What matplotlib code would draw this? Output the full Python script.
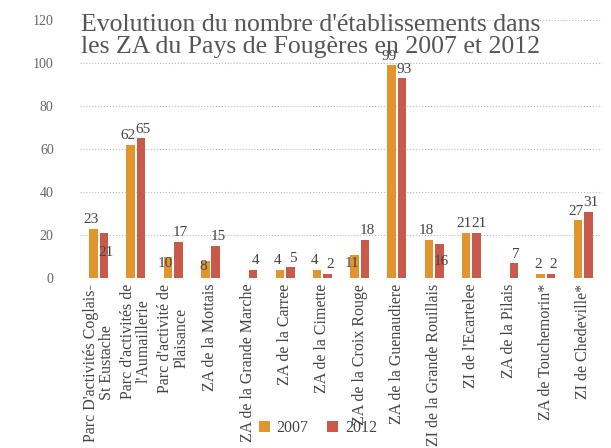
import matplotlib.pyplot as plt
import numpy as np

# zones d'activites (labels as on the chart)
zones = ["Parc D'activités Coglais-\nSt Eustache", "Parc d'activités de\nl'Aumaillerie",
         "Parc d'activité de\nPlaisance", "ZA de la Mottais", "ZA de la Grande Marche",
         "ZA de la Carree", "ZA de la Cimette", "ZA de la Croix Rouge",
         "ZA de la Guenaudiere", "ZI de la Grande Rouillais", "ZI de l'Ecartelee",
         "ZA de la Pilais", "ZA de Touchemorin*", "ZI de Chedeville*"]
val_2007 = [23, 62, 10, 8, None, 4, 4, 11, 99, 18, 21, None, 2, 27]
val_2012 = [21, 65, 17, 15, 4, 5, 2, 18, 93, 16, 21, 7, 2, 31]

# labels that sit inside the bars on the original (series, index) -> label centre y
label_inside = {(2012, 0): 12, (2007, 2): 7, (2007, 3): 5.5, (2007, 7): 7, (2012, 9): 8}

plt.rcParams['font.family'] = ['Liberation Serif', 'DejaVu Serif']

fig = plt.figure(figsize=(6.11, 4.48), dpi=100)
ax = fig.add_axes([0.131, 0.379, 0.854, 0.576])

x = np.arange(len(zones))
w = 0.23
c07 = '#E2952E'
c12 = '#C85A4B'
v07 = [v if v is not None else 0 for v in val_2007]

ax.bar(x - 0.14, v07, w, color=c07, label='2007', zorder=3)
ax.bar(x + 0.14, val_2012, w, color=c12, label='2012', zorder=3)

# data labels
for year, vals, dx in [(2007, val_2007, -0.2), (2012, val_2012, 0.2)]:
    for i, v in enumerate(vals):
        if v is None:
            continue
        if (year, i) in label_inside:
            ax.text(x[i] + dx, label_inside[(year, i)], str(v), ha='center', va='center',
                    fontsize=11, color='#444444', zorder=4)
        else:
            ax.text(x[i] + dx, v + 1.2, str(v), ha='center', va='bottom',
                    fontsize=11, color='#444444', zorder=4)

ax.set_xlim(-0.5, len(zones) - 0.5)
ax.set_ylim(0, 120)
ax.set_yticks(range(0, 121, 20))
ax.yaxis.grid(True, linestyle=':', color='#bbbbbb', linewidth=0.8, zorder=0)
for s in ax.spines.values():
    s.set_visible(False)
ax.tick_params(axis='y', length=0, labelsize=10, labelcolor='#666666', pad=19)
ax.tick_params(axis='x', length=0, pad=4)
ax.set_xticks(x)
ax.set_xticklabels(zones, rotation=90, fontsize=11.5, color='#444444', va='top', ha='center',
                   multialignment='center', linespacing=1.0)

fig.text(0.508, 0.968, "Evolutiuon du nombre d'établissements dans\nles ZA du Pays de Fougères en 2007 et 2012",
         ha='center', va='top', fontsize=18.5, color='#555555', linespacing=1.0)

fig.legend(loc='lower center', bbox_to_anchor=(0.52, -0.005), ncol=2, frameon=False,
           fontsize=11.5, handlelength=0.7, handleheight=0.7, columnspacing=1.2,
           handletextpad=0.4, labelcolor='#444444')

fig.savefig('out.png', dpi=100)
